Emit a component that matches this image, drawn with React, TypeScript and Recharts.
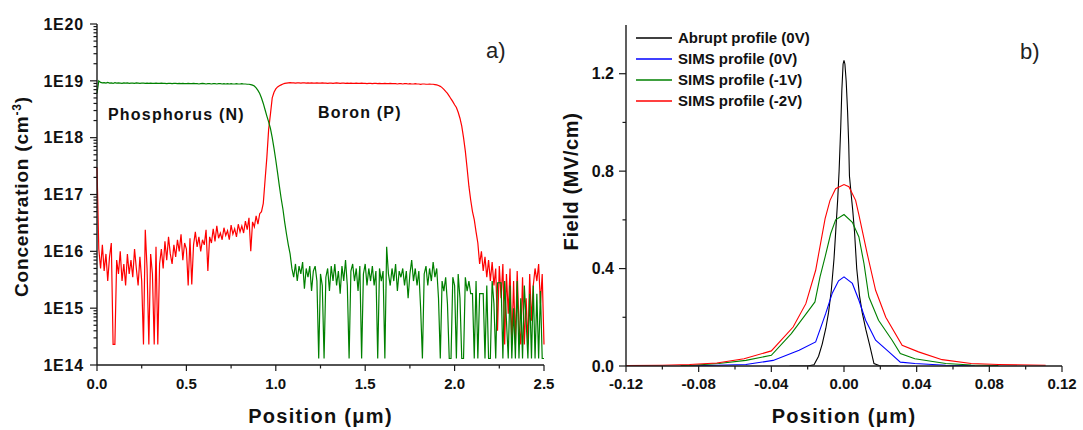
import React from "react";
import { LineChart, Line, XAxis, YAxis, Legend } from "recharts";

const FONT = '"Liberation Sans", Arial, Helvetica, sans-serif';
const AXIS = "#1a1a1a";
const TEXT = "#111";

// ---------- panel a) SIMS depth profile ----------
const P_FLOOR = 1.3e14; // phosphorus detection floor
const B_FLOOR = 2.3e14; // boron detection floor

// phosphorus (N) concentration, cm^-3, one value every 0.01 um from 0.00 to 2.50
const phosphorus = [
  6e18, 1e19, 9.4e18, 9.2e18, 9.3e18, 9.1e18, 9.4e18, 9.1e18, 9.2e18, 9.0e18,
  9.3e18, 9.1e18, 9.2e18, 9.1e18, 9.0e18, 9.2e18, 9.1e18, 9.2e18, 9.0e18, 9.1e18,
  9.1e18, 9.0e18, 9.2e18, 9.1e18, 9.0e18, 9.1e18, 9.1e18, 9.0e18, 9.1e18, 9.0e18,
  9.1e18, 9.0e18, 9.0e18, 9.1e18, 9.0e18, 9.0e18, 9.1e18, 9.0e18, 9.0e18, 8.9e18,
  9.0e18, 9.0e18, 8.9e18, 9.0e18, 9.0e18, 8.9e18, 9.0e18, 8.9e18, 9.0e18, 8.9e18,
  8.9e18, 9.0e18, 8.9e18, 8.9e18, 9.0e18, 8.9e18, 8.9e18, 8.8e18, 8.9e18, 9.0e18,
  8.9e18, 8.8e18, 8.9e18, 8.9e18, 8.8e18, 8.9e18, 8.9e18, 8.8e18, 8.9e18, 8.9e18,
  8.8e18, 8.9e18, 8.8e18, 8.9e18, 8.8e18, 8.9e18, 8.8e18, 8.8e18, 8.9e18, 8.8e18,
  8.8e18, 8.9e18, 8.8e18, 8.8e18, 8.7e18, 8.7e18,
  8.6e18, 8.4e18, 8.1e18, 7.5e18, 6.8e18, 6.0e18, 5.0e18, 4.0e18, 3.1e18, 2.4e18,
  1.9e18, 1.45e18, 1.0e18, 6.5e17, 4e17, 2.4e17, 1.4e17, 8.5e16, 5.5e16, 3.2e16,
  2.0e16, 1.3e16, 9e15, 5e15,
  3.5e15, 6e15, 3e15, 5.5e15, 4e15, 6.5e15, 2.2e15, 5e15, 3.5e15, 5.5e15,
  2e15, 4.5e15, 5.5e15, 3e15, P_FLOOR, 4e15, 2.5e15, P_FLOOR, 3.5e15, 5e15,
  2e15, 5.5e15, 3e15, 6e15, 2.5e15, 4.5e15, 1.8e15, 5.5e15, 3e15, 7e15,
  2.5e15, P_FLOOR, 4.5e15, 6e15, 3e15, 5e15, 2e15, 5.5e15, P_FLOOR, 4e15,
  6e15, 2.5e15, 5e15, 3e15, 5.5e15, 2.5e15, 4.5e15, P_FLOOR, 5e15, 3e15,
  4.5e15, P_FLOOR, 1.2e16, 4e15, 2.5e15, 5e15, 3e15, 6e15, 2e15, 4.5e15,
  3.5e15, 5e15, 2.5e15, 4.5e15, 1.5e15, 4e15, 7e15, 3e15, 5e15, 2.5e15,
  4.5e15, 1e15, P_FLOOR, 4e15, 5.5e15, 2.5e15, 5e15, 3e15, 6.5e15, 3.5e15,
  5e15, 1.5e15, P_FLOOR, 3e15, 2e15, 3.5e15, 1.2e15, P_FLOOR, P_FLOOR, 3.5e15,
  2.5e15, P_FLOOR, 4e15, 1.5e15, P_FLOOR, P_FLOOR, 3.5e15, 2e15, 3e15, 1.8e15,
  1.8e15, P_FLOOR, 3e15, P_FLOOR, 1.8e15, 1.8e15, 1.8e15, P_FLOOR, 2.5e15, P_FLOOR,
  P_FLOOR, 3e15, 1.2e15, P_FLOOR, 2.8e15, 2.8e15, 2.8e15, P_FLOOR, 3e15, 6e14,
  P_FLOOR, 2.5e15, P_FLOOR, 1e15, P_FLOOR, 3e15, P_FLOOR, 1.5e15, P_FLOOR, 2.5e15,
  6e14, P_FLOOR, 1.8e15, P_FLOOR, 2.5e15, P_FLOOR, 1.8e15, P_FLOOR, 2e15, P_FLOOR,
  P_FLOOR,
];

// boron (P) concentration, cm^-3, same depth grid
const boron = [
  3e17, 1.1e16, 5e15, 1.3e16, 4.5e15, 9e15, 3e15, 8e15, 1.4e16, B_FLOOR,
  B_FLOOR, 7e15, 4e15, 1e16, 3e15, 6e15, 2.5e15, 9e15, 4e15, 7e15,
  3.5e15, 1.1e16, 5e15, 2.5e15, 8e15, 3e15, B_FLOOR, 2.4e16, 5e15, B_FLOOR,
  9e15, 4e15, B_FLOOR, 1.2e16, B_FLOOR, 6e15, 1.1e16, 5e15, 1.5e16, 7e15,
  1.8e16, 9e15, 6e15, 1.3e16, 8e15, 1.6e16, 1e16, 2e16, 7e15, 1.4e16,
  1.1e16, 2.5e15, 1.7e16, 2.6e15, 1.3e16, 2.2e16, 1.2e16, 1.8e16, 1e16, 1.6e16,
  1.3e16, 2.4e16, 4.5e15, 1.8e16, 1.4e16, 2.5e16, 1.5e16, 2.8e16, 1.7e16, 2.1e16,
  1.6e16, 2.6e16, 1.9e16, 2.3e16, 1.6e16, 2.9e16, 2e16, 2.5e16, 1.8e16, 3e16,
  2.2e16, 2.8e16, 2.1e16, 3.4e16, 2.4e16, 3.9e16, 1e16, 3.3e16, 2.7e16, 4.2e16,
  3e16, 4.6e16,
  5e16, 7e16, 1.8e17, 4.5e17, 1.4e18, 2.6e18, 5e18, 6.3e18, 7.2e18, 7.8e18,
  8.2e18, 8.5e18, 8.8e18, 9.0e18,
  9.1e18, 9.2e18, 9.3e18, 9.2e18, 9.2e18, 9.1e18, 9.2e18, 9.2e18, 9.1e18, 9.2e18,
  9.2e18, 9.1e18, 9.2e18, 9.1e18, 9.2e18, 9.1e18, 9.1e18, 9.2e18, 9.1e18, 9.1e18,
  9.2e18, 9.1e18, 9.1e18, 9.0e18, 9.1e18, 9.1e18, 9.0e18, 9.1e18, 9.2e18, 9.1e18,
  9.0e18, 9.1e18, 9.1e18, 9.0e18, 9.1e18, 9.0e18, 9.1e18, 9.0e18, 9.0e18, 9.1e18,
  9.0e18, 9.0e18, 9.1e18, 9.0e18, 9.0e18, 8.9e18, 9.0e18, 9.0e18, 8.9e18, 9.0e18,
  9.0e18, 8.9e18, 9.0e18, 8.9e18, 8.9e18, 9.0e18, 8.9e18, 8.9e18, 9.0e18, 8.9e18,
  8.9e18, 8.9e18, 8.8e18, 8.9e18, 8.9e18, 8.8e18, 8.9e18, 8.9e18, 8.8e18, 8.9e18,
  8.8e18, 8.8e18, 8.9e18, 8.8e18, 8.8e18, 8.7e18, 8.8e18, 8.8e18, 8.7e18, 8.7e18,
  8.8e18, 8.7e18, 8.7e18, 8.6e18, 8.5e18, 8.3e18, 8.0e18, 7.6e18,
  7.1e18, 6.5e18, 6.0e18, 5.4e18, 4.8e18, 4.3e18, 3.8e18, 3.4e18, 2.8e18, 2.2e18,
  1.6e18, 1.0e18, 5.8e17, 2.9e17, 1.4e17, 8e16, 5e16, 3.6e16, 2.2e16, 1.4e16,
  6e15, 1e16, 4.5e15, 8e15, 3.5e15, 7e15, 3e15, 6.5e15, 2.5e15, 5e15,
  4e14, 5.5e15, 1.5e15, 6e15, B_FLOOR, 4e15, 8e14, 5e15, B_FLOOR, 3e15,
  B_FLOOR, 4.5e15, 5e14, B_FLOOR, 3.5e15, B_FLOOR, 1.5e15, B_FLOOR, 4e15, 6e14,
  2.5e15, 5e15, 3e15, 6e15, 1.2e15, 4e15, B_FLOOR,
];

const depthStep = 0.01; // um, sampling grid of both profiles
const depthUm = phosphorus.map((_, i) => Math.round(i * depthStep * 100) / 100);

const concentrationDecades = [1e14, 1e15, 1e16, 1e17, 1e18, 1e19, 1e20];
const concentrationLabels = ["1E14", "1E15", "1E16", "1E17", "1E18", "1E19", "1E20"];
const depthMajor = [0, 0.5, 1.0, 1.5, 2.0, 2.5];
const depthMinor = [0.25, 0.75, 1.25, 1.75, 2.25];

// ---------- panel b) electric field ----------
const abruptX = [-0.03, -0.02, -0.0165, -0.014, -0.012, -0.01, -0.0085, -0.007, -0.0055, -0.0045, -0.0035, -0.0027, -0.0018, -0.0012, -0.0005, 0, 0.0005, 0.0012, 0.002, 0.0026, 0.003, 0.004, 0.0048, 0.0058, 0.007, 0.0085, 0.01, 0.012, 0.014, 0.0165, 0.02, 0.03];
const abruptField = [0, 0, 0.005, 0.04, 0.09, 0.155, 0.22, 0.31, 0.44, 0.56, 0.68, 0.8, 0.98, 1.13, 1.24, 1.255, 1.24, 1.17, 1.04, 0.91, 0.78, 0.7, 0.64, 0.55, 0.4, 0.29, 0.22, 0.15, 0.09, 0.01, 0, 0];

const sims0X = [-0.085, -0.07, -0.054, -0.039, -0.0247, -0.0156, -0.01, -0.0064, -0.003, 0, 0.0046, 0.0082, 0.0119, 0.0174, 0.0247, 0.031, 0.039, 0.056, 0.072];
const sims0Field = [0.001, 0.003, 0.006, 0.023, 0.065, 0.099, 0.217, 0.3, 0.35, 0.366, 0.339, 0.27, 0.188, 0.106, 0.058, 0.016, 0.01, 0.003, 0.001];

const sims1X = [-0.09, -0.083, -0.069, -0.054, -0.04, -0.029, -0.018, -0.016, -0.0132, -0.0104, -0.0073, -0.0046, 0, 0.0046, 0.0082, 0.011, 0.0137, 0.019, 0.0265, 0.031, 0.039, 0.056, 0.07, 0.085];
const sims1Field = [0.002, 0.003, 0.01, 0.023, 0.044, 0.133, 0.243, 0.263, 0.366, 0.448, 0.544, 0.6, 0.622, 0.59, 0.53, 0.42, 0.283, 0.188, 0.106, 0.051, 0.03, 0.01, 0.004, 0.002];

const sims2X = [-0.12, -0.1, -0.085, -0.07, -0.055, -0.04, -0.028, -0.021, -0.0156, -0.0104, -0.0077, -0.0046, 0, 0.0027, 0.0064, 0.0082, 0.0128, 0.0174, 0.023, 0.032, 0.041, 0.054, 0.07, 0.085, 0.111];
const sims2Field = [0.002, 0.003, 0.006, 0.012, 0.03, 0.062, 0.16, 0.256, 0.393, 0.605, 0.68, 0.728, 0.745, 0.736, 0.68, 0.62, 0.46, 0.311, 0.2, 0.085, 0.058, 0.026, 0.01, 0.006, 0.003];

const fieldMajor = [0, 0.4, 0.8, 1.2];
const fieldMinor = [0.2, 0.6, 1.0];
const positionMajor = [-0.12, -0.08, -0.04, 0, 0.04, 0.08, 0.12];
const positionMinor = [-0.1, -0.06, -0.02, 0.02, 0.06, 0.1];

const fieldSeries = [
  { name: "Abrupt profile (0V)", color: "#000000", xs: abruptX, ys: abruptField },
  { name: "SIMS profile (0V)", color: "#0000ff", xs: sims0X, ys: sims0Field },
  { name: "SIMS profile (-1V)", color: "#008000", xs: sims1X, ys: sims1Field },
  { name: "SIMS profile (-2V)", color: "#ff0000", xs: sims2X, ys: sims2Field },
];

const isMajor = (majors: number[], v: number) =>
  majors.findIndex((m) => Math.abs(m - v) <= Math.abs(m) * 1e-6 + 1e-9);

function makeLeftTick(majors: number[], label: (i: number) => string, gap: number, fontSize: number, spacing: number) {
  return (props: any) => {
    const { x, y, payload } = props;
    const i = isMajor(majors, payload.value);
    return (
      <g>
        <line x1={x} x2={x - (i >= 0 ? 7 : 3.5)} y1={y} y2={y} stroke={AXIS} strokeWidth={1.2} />
        {i >= 0 && (
          <text x={x - gap} y={y} dy="0.36em" textAnchor="end" fontFamily={FONT} fontWeight="bold"
            fontSize={fontSize} letterSpacing={spacing} fill={TEXT}>
            {label(i)}
          </text>
        )}
      </g>
    );
  };
}

function makeBottomTick(majors: number[], digits: number, baseline: number) {
  return (props: any) => {
    const { x, y, payload } = props;
    const i = isMajor(majors, payload.value);
    return (
      <g>
        <line x1={x} x2={x} y1={y} y2={y + (i >= 0 ? 6 : 3.5)} stroke={AXIS} strokeWidth={1.2} />
        {i >= 0 && (
          <text x={x} y={y + baseline} textAnchor="middle" fontFamily={FONT} fontWeight="bold"
            fontSize={15} fill={TEXT}>
            {majors[i].toFixed(digits)}
          </text>
        )}
      </g>
    );
  };
}

function ConcentrationTitle(props: any) {
  const vb = props.viewBox || { x: 0, y: 24, width: 97, height: 341 };
  const bx = vb.x + 28;
  const cy = vb.y + vb.height / 2 + 2;
  return (
    <text x={bx} y={cy} transform={`rotate(-90 ${bx} ${cy})`} textAnchor="middle" fontFamily={FONT}
      fontWeight="bold" fontSize={19} letterSpacing={0.8} fill={TEXT}>
      Concentration (cm<tspan dy={-7} fontSize={12}>-3</tspan><tspan dy={7}>)</tspan>
    </text>
  );
}

function FieldTitle(props: any) {
  const vb = props.viewBox || { x: 0, y: 25, width: 86, height: 341 };
  const bx = vb.x + 38;
  const cy = vb.y + vb.height / 2 - 14;
  return (
    <text x={bx} y={cy} transform={`rotate(-90 ${bx} ${cy})`} textAnchor="middle" fontFamily={FONT}
      fontWeight="bold" fontSize={20} letterSpacing={0.6} fill={TEXT}>
      Field (MV/cm)
    </text>
  );
}

// legend keeps the plotting order of fieldSeries (Recharts would sort by name)
function FieldLegend() {
  return (
    <div style={{ fontFamily: FONT, fontWeight: "bold", fontSize: 15, color: TEXT }}>
      {fieldSeries.map((s) => (
        <div key={s.name} style={{ display: "flex", alignItems: "center", height: 21 }}>
          <svg width={36} height={4} style={{ display: "block" }}>
            <line x1={0} x2={36} y1={2} y2={2} stroke={s.color} strokeWidth={1.5} />
          </svg>
          <span style={{ marginLeft: 6, whiteSpace: "nowrap" }}>{s.name}</span>
        </div>
      ))}
    </div>
  );
}

const rowsA = depthUm.map((d, i) => ({ depth: d, phosphorus: phosphorus[i], boron: boron[i] }));

const yTicksA = concentrationDecades.flatMap((d, i) =>
  i === concentrationDecades.length - 1 ? [d] : [d, 2 * d, 3 * d, 4 * d, 5 * d, 6 * d, 7 * d, 8 * d, 9 * d]
);

const titleStyle = { fontFamily: FONT, fontWeight: "bold", fontSize: 20, letterSpacing: 1.3, fill: TEXT };

export default function App() {
  return (
    <div style={{ position: "absolute", left: 0, top: 0, width: 1083, height: 430, background: "#fff" }}>
      <div style={{ position: "absolute", left: 0, top: 0 }}>
        <LineChart width={560} height={430} data={rowsA} margin={{ top: 24, right: 16, left: 0, bottom: 0 }}>
          <XAxis dataKey="depth" type="number" domain={[0, 2.5]} ticks={[...depthMajor, ...depthMinor].sort((a, b) => a - b)}
            interval={0} height={65} tickSize={0} tickMargin={0} tickLine={false}
            axisLine={{ stroke: AXIS, strokeWidth: 1.4 }}
            tick={makeBottomTick(depthMajor, 1, 24)}
            label={{ value: "Position (μm)", position: "insideBottom", offset: 7, ...titleStyle }} />
          <YAxis type="number" scale="log" domain={[1e14, 1e20]} allowDataOverflow ticks={yTicksA} interval={0}
            width={97} tickSize={0} tickMargin={0} tickLine={false}
            axisLine={{ stroke: AXIS, strokeWidth: 1.4 }}
            tick={makeLeftTick(concentrationDecades, (i) => concentrationLabels[i], 13, 16, 0.8)}
            label={<ConcentrationTitle />} />
          <Line dataKey="boron" name="Boron (P)" stroke="#ff0000" strokeWidth={1.2} dot={false} type="linear" isAnimationActive={false} />
          <Line dataKey="phosphorus" name="Phosphorus (N)" stroke="#008000" strokeWidth={1.2} dot={false} type="linear" isAnimationActive={false} />
        </LineChart>
      </div>
      <div style={{ position: "absolute", left: 540, top: 0 }}>
        <LineChart width={543} height={430} margin={{ top: 25, right: 21, left: 0, bottom: 0 }}>
          <XAxis dataKey="x" type="number" domain={[-0.12, 0.12]} allowDataOverflow
            ticks={[...positionMajor, ...positionMinor].sort((a, b) => a - b)} interval={0}
            height={64} tickSize={0} tickMargin={0} tickLine={false}
            axisLine={{ stroke: AXIS, strokeWidth: 1.4 }}
            tick={makeBottomTick(positionMajor, 2, 23)}
            label={{ value: "Position (μm)", position: "insideBottom", offset: 7, ...titleStyle }} />
          <YAxis type="number" domain={[0, 1.4]} allowDataOverflow ticks={[...fieldMajor, ...fieldMinor].sort((a, b) => a - b)}
            interval={0} width={86} tickSize={0} tickMargin={0} tickLine={false}
            axisLine={{ stroke: AXIS, strokeWidth: 1.4 }}
            tick={makeLeftTick(fieldMajor, (i) => fieldMajor[i].toFixed(1), 12, 16, 0)}
            label={<FieldTitle />} />
          <Legend layout="vertical" align="center" verticalAlign="middle" content={<FieldLegend />}
            wrapperStyle={{ left: 96, top: 27, width: "auto", height: "auto" }} />
          {fieldSeries.map((s) => (
            <Line key={s.name} data={s.xs.map((x, i) => ({ x, field: s.ys[i] }))} dataKey="field" name={s.name}
              stroke={s.color} strokeWidth={1.1} dot={false} type="linear" isAnimationActive={false} />
          ))}
        </LineChart>
      </div>
      <svg width={1083} height={430} style={{ position: "absolute", left: 0, top: 0, pointerEvents: "none" }}>
        <text x={108} y={120} fontFamily={FONT} fontWeight="bold" fontSize={16} letterSpacing={1.2} fill={TEXT}>Phosphorus (N)</text>
        <text x={318} y={118} fontFamily={FONT} fontWeight="bold" fontSize={16} letterSpacing={1.2} fill={TEXT}>Boron (P)</text>
        <text x={486} y={58} fontFamily={FONT} fontSize={22} fill="#222">a)</text>
        <text x={1020} y={59} fontFamily={FONT} fontSize={22} fill="#222">b)</text>
      </svg>
    </div>
  );
}
